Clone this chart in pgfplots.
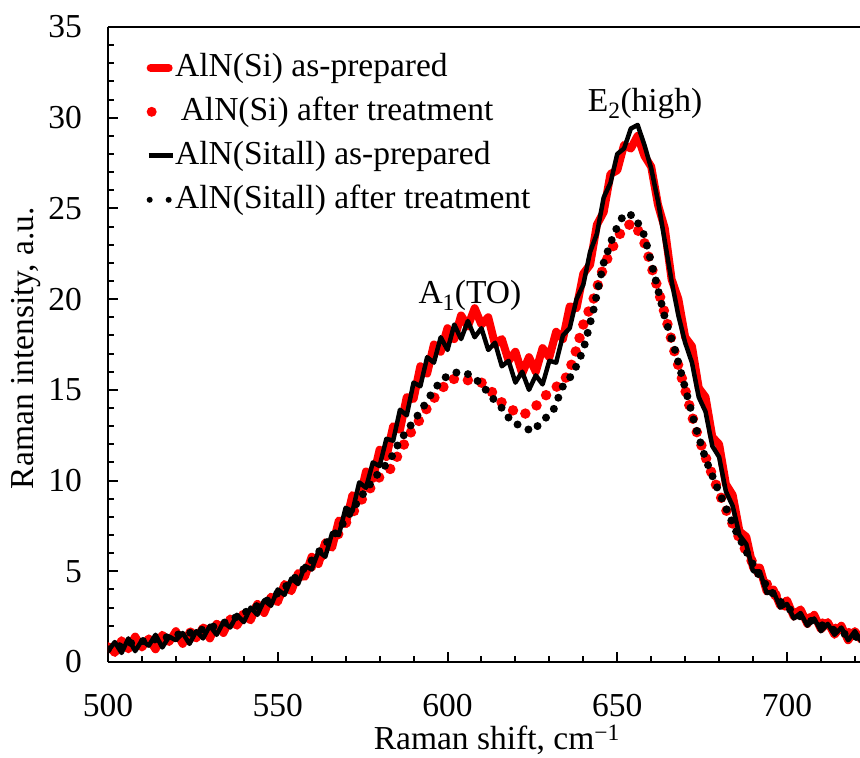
\documentclass[border=0pt]{standalone}
\usepackage{fontspec}
\setmainfont{Liberation Serif}
\usepackage{pgfplots}
\pgfplotsset{compat=1.18}
\usepackage{pgfplotstable}

\pgfplotstableread{
x y
500 0.9
502 0.5
504 1.2
506 0.7
508 1.4
510 0.8
512 1.3
514 0.7
516 1.5
518 1.1
520 1.7
522 1.0
524 1.6
526 1.3
528 1.9
530 1.3
532 2.1
534 1.6
536 2.4
538 2.0
540 2.6
542 2.3
544 3.2
546 2.7
548 3.6
550 3.3
552 4.3
554 3.9
556 4.9
558 4.7
560 5.8
562 5.4
564 6.6
566 6.3
568 7.8
570 7.6
572 9.2
574 8.9
576 10.5
578 10.1
580 11.7
582 11.3
584 13.0
586 12.8
588 14.6
590 14.5
592 16.3
594 15.9
596 17.5
598 17.1
600 18.4
602 17.8
604 19.1
606 18.5
608 19.5
610 18.6
612 19.0
614 17.5
616 17.8
618 16.6
620 17.1
622 15.9
624 16.8
626 16.0
628 17.3
630 16.8
632 18.2
634 17.8
636 19.6
638 19.5
640 21.4
642 21.9
644 24.1
646 24.8
648 26.9
650 27.1
652 28.5
654 28.3
656 29.0
658 27.9
660 27.3
662 25.2
664 23.9
666 21.1
668 20.0
670 17.9
672 17.4
674 15.1
676 14.6
678 12.4
680 12.0
682 9.8
684 9.2
686 7.2
688 6.9
690 5.2
692 5.2
694 3.9
696 4.0
698 3.1
700 3.4
702 2.5
704 2.9
706 2.1
708 2.6
710 1.8
712 2.2
714 1.5
716 2.0
718 1.2
720 1.7
722 1.2
}\siprep

\pgfplotstableread{
x y
500 0.8
504 1.0
508 1.1
512 1.2
516 1.3
520 1.4
524 1.6
528 1.8
532 2.0
536 2.3
540 2.6
544 3.0
548 3.4
552 3.9
556 4.6
560 5.3
564 6.1
568 7.1
572 8.2
576 9.3
580 10.2
583 10.6
586 11.6
589 12.6
592 13.4
595 14.3
598 15.0
601 15.6
604 15.6
607 15.5
610 15.4
613 14.9
616 14.3
619 13.9
622 13.6
625 13.9
628 14.5
631 15.1
634 15.3
637 16.6
640 18.6
643 20.0
646 21.8
649 23.0
652 24.0
655 24.2
658 23.1
661 21.2
664 19.2
667 17.0
670 15.0
673 12.9
676 11.3
679 9.8
682 8.4
685 7.2
688 6.1
691 5.1
694 4.3
697 3.6
700 3.0
704 2.6
708 2.3
712 2.0
716 1.7
720 1.5
722 1.4
}\sitreat

\pgfplotstableread{
x y
500 0.6
502 1.1
504 0.5
506 1.3
508 0.6
510 1.2
512 0.9
514 1.5
516 0.8
518 1.4
520 1.2
522 1.6
524 1.0
526 1.7
528 1.3
530 2.0
532 1.5
534 2.2
536 1.9
538 2.6
540 2.2
542 3.0
544 2.6
546 3.4
548 3.1
550 4.0
552 3.7
554 4.6
556 4.3
558 5.3
560 5.1
562 6.1
564 5.8
566 7.1
568 7.0
570 8.5
572 8.3
574 9.9
576 9.6
578 11.0
580 10.8
582 12.3
584 12.2
586 13.9
588 13.6
590 15.4
592 15.2
594 16.8
596 16.5
598 17.9
600 17.2
602 18.6
604 17.8
606 18.8
608 17.9
610 18.4
612 17.2
614 17.6
616 16.3
618 16.6
620 15.4
622 16.0
624 15.0
626 15.8
628 15.3
630 16.6
632 16.5
634 18.0
636 18.4
638 20.0
640 20.8
642 22.6
644 23.6
646 25.6
648 26.4
650 28.0
652 28.3
654 29.4
656 29.6
658 28.5
660 27.2
662 25.4
664 23.2
666 21.0
668 19.1
670 17.6
672 16.5
674 14.6
676 13.8
678 11.9
680 11.3
682 9.4
684 8.6
686 7.0
688 6.5
690 5.0
692 5.0
694 3.8
696 3.9
698 3.0
700 3.2
702 2.4
704 2.7
706 2.0
708 2.4
710 1.7
712 2.1
714 1.5
716 1.9
718 1.2
720 1.7
722 1.1
}\sitallprep

\pgfplotstableread{
x y
500 0.7
504 0.9
508 1.1
512 1.2
516 1.3
520 1.5
524 1.6
528 1.8
532 2.0
536 2.3
540 2.7
544 3.1
548 3.5
552 4.1
556 4.8
560 5.6
564 6.5
568 7.3
572 8.4
576 9.5
580 10.5
583 11.1
586 12.2
589 13.0
592 13.8
595 14.7
598 15.5
601 15.9
604 16.0
607 15.8
610 15.3
613 14.6
616 14.0
619 13.2
622 13.0
625 12.7
628 13.3
631 13.8
634 15.2
637 15.9
640 17.2
643 19.4
646 22.0
649 23.6
652 24.7
655 24.6
658 23.5
661 21.3
664 19.0
667 17.2
670 15.1
673 13.0
676 11.2
679 9.8
682 8.5
685 7.2
688 6.1
691 5.0
694 4.2
697 3.5
700 3.0
704 2.5
708 2.2
712 1.9
716 1.6
720 1.4
722 1.3
}\sitalltreat

\begin{document}
\begin{tikzpicture}
\def\fs{\fontsize{33.5}{40}\selectfont}
\begin{axis}[
  at={(0pt,0pt)}, anchor=south west,
  scale only axis, width=752pt, height=635pt,
  xmin=500, xmax=721.5, ymin=0, ymax=35,
  axis x line*=bottom, axis y line*=left,
  axis line style={-, line width=2.5pt, black},
  clip mode=individual,
  xtick={500,550,600,650,700},
  minor xtick={510,520,530,540,560,570,580,590,610,620,630,640,660,670,680,690,710,720},
  ytick={0,5,10,15,20,25,30,35},
  minor ytick={1,2,3,4,6,7,8,9,11,12,13,14,16,17,18,19,21,22,23,24,26,27,28,29,31,32,33,34},
  tick align=inside,
  major tick length=10pt, minor tick length=6pt,
  every tick/.style={line width=2pt, black},
  /pgf/number format/assume math mode=true,
  /pgf/number format/1000 sep={},
  ticklabel style={font=\fs},
  xticklabel style={anchor=north, inner sep=0pt, yshift=-32pt},
  yticklabel style={anchor=east, inner sep=0pt, xshift=-26pt},
  xlabel={Raman shift, cm\textsuperscript{−1}},
  ylabel={Raman intensity, a.u.},
  xlabel style={font=\fs, at={(axis description cs:0.517,-0.1385)}, anchor=base, inner sep=0pt},
  ylabel style={font=\fs, at={(axis description cs:-0.0997,0.494)}, anchor=base, inner sep=0pt},
  legend style={draw=none, fill=none, font=\fs,
    at={(axis description cs:0.0505,0.962)}, anchor=north west,
    inner xsep=0pt, inner ysep=0pt, row sep=11pt,
    nodes={inner sep=0pt, text height=25pt, text depth=8pt}},
  legend cell align=left,
]
\addplot[red, line width=8pt, line join=round,
  legend image code/.code={\draw[red, line width=8pt, line cap=round, solid] (4pt,0pt) -- (22pt,0pt);}]
  table {\siprep};
\addlegendentry{AlN(Si) as-prepared}
\addplot[red, line width=10.5pt, line cap=round, dash pattern=on 0pt off 14pt,
  legend image code/.code={\path[draw=none] (0pt,0pt) -- (26pt,0pt); \fill[red, draw=none] (5pt,0pt) circle (5pt);}]
  table {\sitreat};
\addlegendentry{\,AlN(Si) after treatment}
\addplot[black, line width=4.5pt, line join=round,
  legend image code/.code={\draw[black, line width=5pt, solid] (2pt,0pt) -- (26pt,0pt);}]
  table {\sitallprep};
\addlegendentry{AlN(Sitall) as-prepared}
\addplot[black, line width=8pt, line cap=round, dash pattern=on 0pt off 12pt,
  legend image code/.code={\path[draw=none] (0pt,0pt) -- (26pt,0pt); \fill[black, draw=none] (3pt,0pt) circle (3pt); \fill[black, draw=none] (22pt,0pt) circle (3pt);}]
  table {\sitalltreat};
\addlegendentry{AlN(Sitall) after treatment}
\node[font=\fs] at (axis cs:606.6,20.2) {A\textsubscript{1}(TO)};
\node[font=\fs] at (axis cs:658.2,30.8) {E\textsubscript{2}(high)};
\draw[line width=2.5pt, black] (rel axis cs:0,1) -- (rel axis cs:1,1);
\end{axis}
\pgfresetboundingbox
\path (-108pt,-96pt) rectangle (752pt,662pt);
\end{tikzpicture}
\end{document}
